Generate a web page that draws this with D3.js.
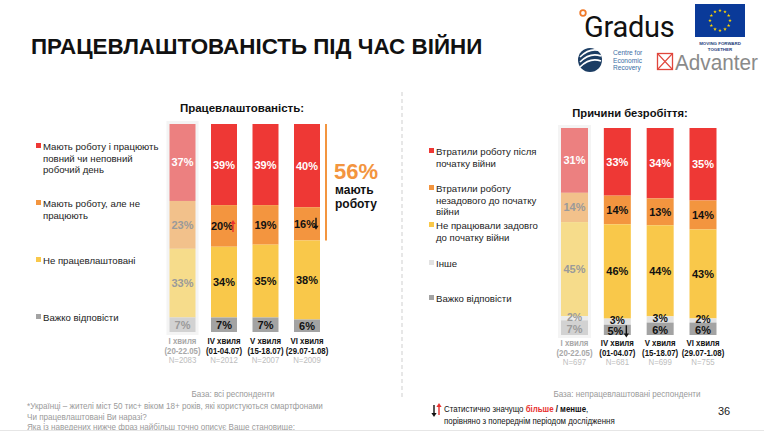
<!DOCTYPE html>
<html>
<head>
<meta charset="utf-8">
<script src="https://cdn.jsdelivr.net/npm/d3@7"></script>
<style>
  body { margin: 0; background: #fff; }
  svg { display: block; font-family: "Liberation Sans", Arial, sans-serif; }
</style>
</head>
<body>
<svg id="chart" width="764" height="431"></svg>
<script>
// Waves (columns) shared by both charts
var waves = ["I хвиля", "IV хвиля", "V хвиля", "VI хвиля"];
var waveDates = ["(20-22.05)", "(01-04.07)", "(15-18.07)", "(29.07-1.08)"];
var empN = ["N=2083", "N=2012", "N=2007", "N=2009"];
var unempN = ["N=697", "N=681", "N=699", "N=755"];

// Left chart: employment
var empKeys = ["work", "notWork", "unemployed", "hard"];
var empLabels = [
	["Мають роботу і працюють", "повний чи неповний", "робочий день"],
	["Мають роботу, але не", "працюють"],
	["Не працевлаштовані"],
	["Важко відповісти"]
];
var empWork = [37, 39, 39, 40];
var empNotWork = [23, 20, 19, 16];
var empUnemployed = [33, 34, 35, 38];
var empHard = [7, 7, 7, 6];
var empArrows = [{ wave: 1, key: "notWork", dir: "up" }, { wave: 3, key: "notWork", dir: "down" }];

// Right chart: reasons of unemployment
var unempKeys = ["lostAfter", "lostBefore", "notBefore", "other", "hard"];
var unempLabels = [
	["Втратили роботу після", "початку війни"],
	["Втратили роботу", "незадового до початку", "війни"],
	["Не працювали задовго", "до початку війни"],
	["Інше"],
	["Важко відповісти"]
];
var unempLostAfter = [31, 33, 34, 35];
var unempLostBefore = [14, 14, 13, 14];
var unempNotBefore = [45, 46, 44, 43];
var unempOther = [2, 3, 3, 2];
var unempHard = [7, 5, 6, 6];
var unempArrows = [{ wave: 1, key: "hard", dir: "down" }];

var colors = { work: "#ee3835", notWork: "#f3953f", unemployed: "#f9c84a", hard: "#a3a3a3",
	lostAfter: "#ee3835", lostBefore: "#f3953f", notBefore: "#f9c84a", other: "#e2e2e2" };
var fadedColors = { work: "#ec8080", notWork: "#f2c18b", unemployed: "#f6dc8b", hard: "#d2d2d2",
	lostAfter: "#ec8080", lostBefore: "#f2c18b", notBefore: "#f6dc8b", other: "#ececec" };

var svg = d3.select("#chart");
svg.append("rect").attr("width", 764).attr("height", 431).attr("fill", "#fff");

// condensed text: horizontally squeezed, like the narrow font of the slide
function ntext(parent, x, y, sx, txt) {
	return parent.append("g")
		.attr("transform", "translate(" + x + "," + y + ") scale(" + sx + ",1)")
		.append("text").text(txt);
}

// Title
svg.append("text")
	.attr("x", 31).attr("y", 54)
	.attr("font-size", 22.4).attr("font-weight", "bold")
	.attr("fill", "#111")
	.text("ПРАЦЕВЛАШТОВАНІСТЬ ПІД ЧАС ВІЙНИ");

function buildRows(keys, arrays) {
	return waves.map(function (w, i) {
		var row = { wave: w, index: i };
		keys.forEach(function (k, j) { row[k] = arrays[j][i]; });
		return row;
	});
}

function arrow(g, x, y, dir, color) {
	// y = vertical centre of the arrow
	var a = g.append("g").attr("fill", color).attr("stroke", color);
	var top = y - 6, bot = y + 6;
	a.append("line").attr("x1", x).attr("x2", x)
		.attr("y1", dir === "up" ? top + 3 : top).attr("y2", dir === "up" ? bot : bot - 3)
		.attr("stroke-width", 1.4);
	if (dir === "up") {
		a.append("path").attr("stroke", "none").attr("d", "M" + (x - 2.6) + "," + (top + 4) + "L" + x + "," + top + "L" + (x + 2.6) + "," + (top + 4) + "Z");
	} else {
		a.append("path").attr("stroke", "none").attr("d", "M" + (x - 2.6) + "," + (bot - 4) + "L" + x + "," + bot + "L" + (x + 2.6) + "," + (bot - 4) + "Z");
	}
}

function drawChart(cfg) {
	var g = svg.append("g");
	var rows = buildRows(cfg.keys, cfg.arrays);
	var series = d3.stack().keys(cfg.keys).offset(d3.stackOffsetExpand)(rows);

	var x = d3.scalePoint().domain(waves).range(cfg.xRange);
	var y = d3.scaleLinear().domain([0, 1]).range([cfg.yTop, cfg.yBottom]);
	var bw = cfg.barWidth;

	// title
	g.append("text")
		.attr("x", cfg.titleX).attr("y", cfg.titleY)
		.attr("text-anchor", "middle")
		.attr("font-size", cfg.titleSize).attr("font-weight", "bold").attr("fill", "#111")
		.text(cfg.title);

	// shading behind first (reference) wave
	g.append("rect")
		.attr("x", x(waves[0]) - bw / 2 - 3).attr("y", cfg.yTop - 3)
		.attr("width", bw + 6).attr("height", cfg.yBottom - cfg.yTop + 6)
		.attr("fill", "#f4f4f4");

	// bars
	series.forEach(function (s) {
		g.append("g").selectAll("rect").data(s).join("rect")
			.attr("x", function (d) { return x(d.data.wave) - bw / 2; })
			.attr("y", function (d) { return y(d[0]); })
			.attr("width", bw)
			.attr("height", function (d) { return y(d[1]) - y(d[0]); })
			.attr("fill", function (d) { return d.data.index === 0 ? fadedColors[s.key] : colors[s.key]; });
	});

	// value labels (small segments get a slightly smaller font)
	series.forEach(function (s, si) {
		g.append("g").selectAll("text").data(s).join("text")
			.attr("x", function (d) {
				var hasArrow = cfg.arrows.some(function (a) { return a.wave === d.data.index && a.key === s.key; });
				return x(d.data.wave) - (hasArrow ? 2 : 0);
			})
			.attr("y", function (d) { return (y(d[0]) + y(d[1])) / 2 + (cfg.labelShift[s.key] || 0); })
			.attr("dy", "0.36em")
			.attr("text-anchor", "middle")
			.attr("font-size", function (d) { return d.data[s.key] < 5 ? 10.5 : 11; })
			.attr("font-weight", "bold")
			.attr("fill", function (d) {
				if (si === 0) return "#fff";
				return d.data.index === 0 ? "#9a9a9a" : "#111";
			})
			.text(function (d) { return d.data[s.key] + "%"; });
	});

	// significance arrows
	cfg.arrows.forEach(function (a) {
		var s = series[cfg.keys.indexOf(a.key)];
		var d = s[a.wave];
		var cy = (y(d[0]) + y(d[1])) / 2 + (cfg.labelShift[a.key] || 0);
		arrow(g, x(waves[a.wave]) + 9, cy, a.dir, a.dir === "up" ? "#e8312f" : "#111");
	});

	// wave labels
	waves.forEach(function (w, i) {
		var cx = x(w);
		var col = i === 0 ? "#a8a8a8" : "#111";
		[w, waveDates[i], cfg.nLabels[i]].forEach(function (t, j) {
			ntext(g, cx, cfg.labelY + j * 9.5, 0.8, t)
				.attr("text-anchor", "middle")
				.attr("font-size", 9.8)
				.attr("font-weight", j < 2 ? "bold" : "normal")
				.attr("fill", j < 2 ? col : "#bdbdbd");
		});
	});

	// legend
	cfg.legend.forEach(function (lines, i) {
		var ly = cfg.legendY[i];
		g.append("rect")
			.attr("x", cfg.legendX).attr("y", ly - 7)
			.attr("width", 5).attr("height", 5)
			.attr("fill", colors[cfg.keys[i]]);
		lines.forEach(function (t, j) {
			g.append("text")
				.attr("x", cfg.legendX + 7).attr("y", ly + j * 11.5)
				.attr("font-size", 9.6).attr("fill", "#222").text(t);
		});
	});

	return { x: x, y: y };
}

var left = drawChart({
	title: "Працевлаштованість:", titleX: 242, titleY: 112, titleSize: 11.5,
	keys: empKeys, arrays: [empWork, empNotWork, empUnemployed, empHard],
	xRange: [182.5, 307], yTop: 124, yBottom: 332, barWidth: 26,
	labelY: 344, nLabels: empN, arrows: empArrows, labelShift: {},
	legend: empLabels, legendX: 36, legendY: [150, 207, 264, 321]
});

drawChart({
	title: "Причини безробіття:", titleX: 630, titleY: 117, titleSize: 11.2,
	keys: unempKeys, arrays: [unempLostAfter, unempLostBefore, unempNotBefore, unempOther, unempHard],
	xRange: [574.5, 703], yTop: 128, yBottom: 335, barWidth: 27,
	labelY: 346, nLabels: unempN, arrows: unempArrows, labelShift: { other: -1.5, hard: 1.5 },
	legend: unempLabels, legendX: 429, legendY: [155, 192, 229, 267, 302]
});

// "56% мають роботу" bracket on the left chart
var bracketX = 326;
var bracketBottom = left.y((empWork[3] + empNotWork[3]) / (empWork[3] + empNotWork[3] + empUnemployed[3] + empHard[3]));
svg.append("line")
	.attr("x1", bracketX).attr("x2", bracketX)
	.attr("y1", left.y(0)).attr("y2", bracketBottom)
	.attr("stroke", "#f3953f").attr("stroke-width", 2);
svg.append("text").attr("x", 334).attr("y", 179)
	.attr("font-size", 22).attr("font-weight", "bold").attr("fill", "#f3953f")
	.text((empWork[3] + empNotWork[3]) + "%");
svg.append("text").attr("x", 335).attr("y", 194)
	.attr("font-size", 12).attr("font-weight", "bold").attr("fill", "#111").text("мають");
svg.append("text").attr("x", 335).attr("y", 208)
	.attr("font-size", 12).attr("font-weight", "bold").attr("fill", "#111").text("роботу");

// dashed divider
svg.append("line")
	.attr("x1", 402).attr("x2", 402).attr("y1", 92).attr("y2", 398)
	.attr("stroke", "#cfcfcf").attr("stroke-width", 1).attr("stroke-dasharray", "4,3");

// footer
var foot = svg.append("g").attr("font-size", 9).attr("fill", "#9a9a9a");
ntext(foot, 233, 397, 0.9, "База: всі респонденти").attr("text-anchor", "middle");
ntext(foot, 627, 397, 0.9, "База: непрацевлаштовані респонденти").attr("text-anchor", "middle");
ntext(foot, 27, 409, 0.9, "*Українці – жителі міст 50 тис+ віком 18+ років, які користуються смартфонами");
ntext(foot, 27, 420, 0.9, "Чи працевлаштовані Ви наразі?");
ntext(foot, 27, 429.5, 0.9, "Яка із наведених нижче фраз найбільш точно описує Ваше становище:");

// significance legend
arrow(svg, 434, 411, "down", "#111");
arrow(svg, 439, 409, "up", "#e8312f");
var sig = ntext(svg, 444, 412, 0.93, "").attr("font-size", 8.5).attr("fill", "#111");
sig.append("tspan").text("Статистично значущо ");
sig.append("tspan").attr("fill", "#e8312f").attr("font-weight", "bold").text("більше");
sig.append("tspan").attr("font-weight", "bold").text(" / менше");
sig.append("tspan").text(",");
ntext(svg, 444, 424, 0.93, "порівняно з попереднім періодом дослідження")
	.attr("font-size", 8.5).attr("fill", "#111");
svg.append("text").attr("x", 718).attr("y", 415).attr("font-size", 11).attr("fill", "#222").text("36");

svg.append("line").attr("x1", 0).attr("x2", 764).attr("y1", 430.5).attr("y2", 430.5)
	.attr("stroke", "#e6e6e6");

// logos
var logos = svg.append("g");
logos.append("circle").attr("cx", 583).attr("cy", 13).attr("r", 2.8)
	.attr("fill", "none").attr("stroke", "#f07a2a").attr("stroke-width", 1.8);
logos.append("text").attr("x", 584).attr("y", 37).attr("font-family", "Roboto, sans-serif")
	.attr("font-size", 29).attr("fill", "#111").attr("letter-spacing", -0.3).text("Gradus");

logos.append("rect").attr("x", 695).attr("y", 4).attr("width", 50).attr("height", 33).attr("fill", "#0a3a99");
d3.range(12).forEach(function (i) {
	var a = i / 12 * 2 * Math.PI;
	logos.append("path")
		.attr("d", d3.symbol(d3.symbolStar, 4)())
		.attr("transform", "translate(" + (720 + 10 * Math.sin(a)) + "," + (20.5 - 10 * Math.cos(a)) + ")")
		.attr("fill", "#ffd500");
});
logos.append("text").attr("x", 720).attr("y", 44.5).attr("text-anchor", "middle")
	.attr("font-size", 4.4).attr("font-weight", "bold").attr("fill", "#1d3a7a").text("MOVING FORWARD");
logos.append("text").attr("x", 720).attr("y", 50.5).attr("text-anchor", "middle")
	.attr("font-size", 4.4).attr("font-weight", "bold").attr("fill", "#1d3a7a").text("TOGETHER");

logos.append("circle").attr("cx", 590).attr("cy", 60).attr("r", 12).attr("fill", "#1c3d63");
[-5, 0, 5].forEach(function (o) {
	logos.append("path")
		.attr("d", "M" + 580 + "," + (62 + o) + "Q" + 590 + "," + (52 + o) + " " + 601 + "," + (56 + o))
		.attr("fill", "none").attr("stroke", "#fff").attr("stroke-width", 1.6);
});
["Centre for", "Economic", "Recovery"].forEach(function (t, i) {
	logos.append("text").attr("x", 613).attr("y", 55 + i * 7.5)
		.attr("font-size", 6.6).attr("fill", "#3a6ea5").text(t);
});

logos.append("rect").attr("x", 657.5).attr("y", 53.5).attr("width", 15).attr("height", 16)
	.attr("fill", "none").attr("stroke", "#e0463c").attr("stroke-width", 1.3);
logos.append("path").attr("d", "M657.5,53.5L672.5,69.5M672.5,53.5L657.5,69.5")
	.attr("stroke", "#e0463c").attr("stroke-width", 1.1);
logos.append("text").attr("x", 675).attr("y", 70).attr("font-size", 22)
	.attr("textLength", 83).attr("lengthAdjust", "spacingAndGlyphs")
	.attr("fill", "#8a8a8a").text("Advanter");
</script>
</body>
</html>
